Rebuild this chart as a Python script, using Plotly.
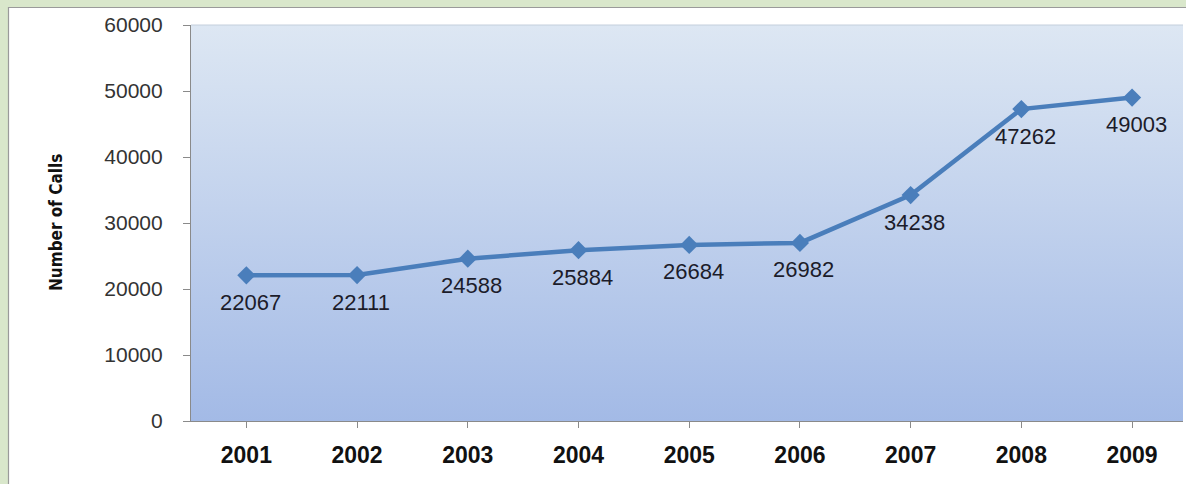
import base64
import plotly.graph_objects as go

years = ["2001", "2002", "2003", "2004", "2005", "2006", "2007", "2008", "2009"]
calls = [22067, 22111, 24588, 25884, 26684, 26982, 34238, 47262, 49003]
y_ticks = [0, 10000, 20000, 30000, 40000, 50000, 60000]

W, H = 1186, 484
L, T, R, B = 191, 25, 3, 63
pw = W - L - R
ph = H - T - B

svg = ('<svg xmlns="http://www.w3.org/2000/svg" width="100" height="100" viewBox="0 0 100 100" '
       'preserveAspectRatio="none"><defs><linearGradient id="g" x1="0" y1="0" x2="0" y2="1">'
       '<stop offset="0" stop-color="#dde7f3"/><stop offset="1" stop-color="#a3bae6"/>'
       '</linearGradient></defs><rect x="0" y="0" width="100" height="100" fill="url(#g)"/></svg>')
src = "data:image/svg+xml;base64," + base64.b64encode(svg.encode()).decode()

fig = go.Figure()
fig.add_trace(go.Scatter(
    x=list(range(len(years))), y=calls, mode="lines+markers",
    line=dict(color="#4a7ebb", width=4.5),
    marker=dict(symbol="diamond", size=14, color="#4a7ebb"),
    hoverinfo="skip", showlegend=False,
))

annotations = []
for i, v in enumerate(calls):
    annotations.append(dict(
        x=i, y=v, xref="x", yref="y", text=str(v), showarrow=False,
        yshift=-27, xshift=4,
        font=dict(family="Liberation Sans, Arial, sans-serif", size=22, color="#1c1c2a"),
    ))
annotations.append(dict(
    x=(44 - L) / pw, y=0.5, xref="paper", yref="paper", text="<b>Number of Calls</b>",
    showarrow=False, textangle=-90,
    font=dict(family="DejaVu Sans Condensed, Liberation Sans Narrow, Arial Narrow, sans-serif",
              size=17, color="#111111"),
))

def px_x(p):
    return (p - L) / pw

def px_y(p):
    return (H - B - p) / ph

green = "#d9e7cb"
shapes = [
    dict(type="rect", xref="paper", yref="paper", x0=px_x(0), x1=px_x(W), y0=px_y(0), y1=px_y(7),
         fillcolor=green, line=dict(width=0), layer="above"),
    dict(type="rect", xref="paper", yref="paper", x0=px_x(0), x1=px_x(8), y0=px_y(0), y1=px_y(H),
         fillcolor=green, line=dict(width=0), layer="above"),
    dict(type="line", xref="paper", yref="paper", x0=px_x(8), x1=px_x(W), y0=px_y(7.5), y1=px_y(7.5),
         line=dict(color="#9a9a9a", width=1.2), layer="above"),
    dict(type="line", xref="paper", yref="paper", x0=px_x(8.5), x1=px_x(8.5), y0=px_y(7), y1=px_y(H),
         line=dict(color="#9a9a9a", width=1.2), layer="above"),
    dict(type="line", xref="paper", yref="paper", x0=0, x1=1, y0=1, y1=1,
         line=dict(color="#c4cfdc", width=1), layer="below"),
]

fig.update_layout(
    width=W, height=H,
    margin=dict(l=L, r=R, t=T, b=B, pad=0),
    paper_bgcolor="white",
    plot_bgcolor="rgba(0,0,0,0)",
    images=[dict(source=src, xref="paper", yref="paper", x=0, y=1, sizex=1, sizey=1,
                 sizing="stretch", xanchor="left", yanchor="top", layer="below")],
    shapes=shapes,
    annotations=annotations,
    xaxis=dict(
        range=[-0.5, 8.46], tickmode="array", tickvals=list(range(len(years))), ticktext=years,
        tickson="boundaries", ticks="outside", ticklen=6, tickcolor="#8a8a8a",
        showline=True, linecolor="#8a8a8a", linewidth=1.2, showgrid=False, zeroline=False,
        tickfont=dict(family="Liberation Sans, Arial, sans-serif", size=23, color="#111111", weight="bold"),
        ticklabelstandoff=7,
    ),
    yaxis=dict(
        range=[0, 60000], tickmode="array", tickvals=y_ticks, ticktext=[str(t) for t in y_ticks],
        ticks="outside", ticklen=7, tickcolor="#8a8a8a",
        showline=True, linecolor="#8a8a8a", linewidth=1.2, showgrid=False, zeroline=False,
        tickfont=dict(family="Liberation Sans, Arial, sans-serif", size=21, color="#333333"),
        ticklabelstandoff=16,
    ),
)

fig.write_html("out.html")
